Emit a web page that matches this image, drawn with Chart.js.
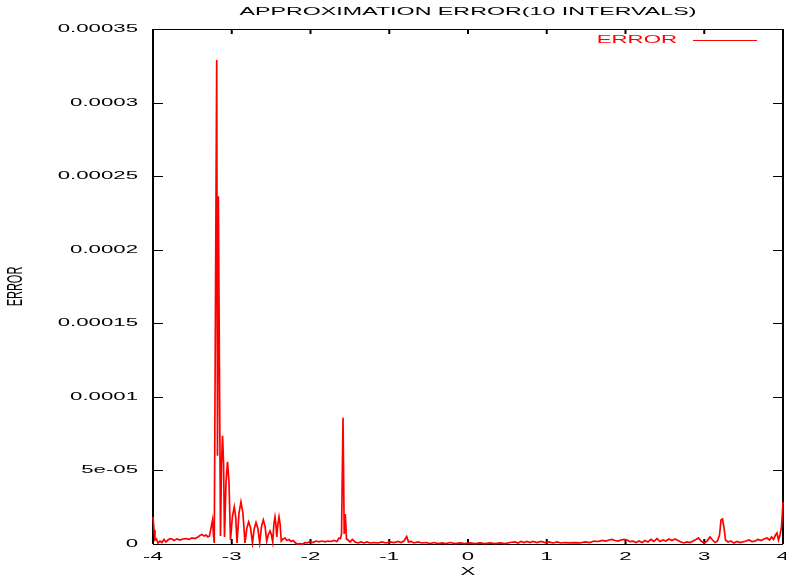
<!DOCTYPE html>
<html>
<head>
<meta charset="utf-8">
<script src="https://cdn.jsdelivr.net/npm/chart.js@4.4.1/dist/chart.umd.min.js"></script>
<style>
  html, body { margin: 0; padding: 0; background: #fff; }
  #wrap { width: 786px; height: 580px; position: relative; }
</style>
</head>
<body>
<div id="wrap"><canvas id="myChart"></canvas></div>
<script>
// values
const xs = [
  -4.000, -3.987, -3.975, -3.956, -3.937, -3.911, -3.886, -3.860, -3.835, -3.810,
  -3.784, -3.759, -3.733, -3.695, -3.657, -3.619, -3.581, -3.543, -3.505, -3.467,
  -3.429, -3.403, -3.378, -3.352, -3.327, -3.302, -3.283, -3.263, -3.244, -3.232,
  -3.222, -3.191, -3.181, -3.170,
  -3.143, -3.130, -3.117, -3.104, -3.092, -3.073, -3.054, -3.035, -3.016, -2.992,
  -2.968, -2.950, -2.933, -2.908, -2.883, -2.858, -2.832, -2.808, -2.785, -2.761,
  -2.737, -2.714, -2.692, -2.668, -2.645, -2.622, -2.599, -2.577, -2.556, -2.535,
  -2.514, -2.497, -2.480, -2.465, -2.451, -2.440, -2.428, -2.414, -2.400, -2.386,
  -2.371,
  -2.349, -2.324, -2.298, -2.273, -2.248,
  -2.222, -2.190, -2.159, -2.133, -2.095, -2.070, -2.044, -2.006, -1.968, -1.930,
  -1.892, -1.854, -1.816, -1.778, -1.740, -1.702, -1.664, -1.638, -1.619, -1.606,
  -1.587, -1.572, -1.558, -1.543, -1.524, -1.498, -1.467, -1.435, -1.397, -1.359,
  -1.321, -1.283, -1.244, -1.194, -1.143, -1.092, -1.041, -0.990, -0.940, -0.889,
  -0.851, -0.813, -0.778, -0.756, -0.724, -0.686, -0.635, -0.584, -0.533, -0.483,
  -0.432, -0.381, -0.330, -0.279, -0.229, -0.165, -0.102, -0.038, 0.025, 0.089,
  0.152, 0.216, 0.279, 0.343, 0.406, 0.470, 0.533, 0.597, 0.635, 0.673,
  0.711, 0.749, 0.787, 0.825, 0.876, 0.927, 0.978, 1.029, 1.079, 1.130,
  1.181, 1.232, 1.295, 1.359, 1.422, 1.486, 1.549, 1.600, 1.651, 1.702,
  1.752, 1.790, 1.829, 1.867, 1.905, 1.943, 1.981, 2.019, 2.057, 2.095,
  2.133, 2.171, 2.210, 2.248, 2.286, 2.324, 2.362, 2.400, 2.438, 2.476,
  2.514, 2.552, 2.590, 2.629, 2.667, 2.705, 2.743, 2.781, 2.819, 2.857,
  2.895, 2.927, 2.959, 2.997, 3.035, 3.073, 3.105, 3.137, 3.168, 3.194,
  3.213, 3.232, 3.251, 3.270, 3.302, 3.340, 3.378, 3.416, 3.454, 3.492,
  3.530, 3.568, 3.606, 3.644, 3.683, 3.721, 3.759, 3.797, 3.829, 3.854,
  3.879, 3.905, 3.924, 3.943, 3.962, 3.981, 4.000
];
const ys = [
  1.84e-5, 0.95e-5, 0.27e-5, 0.34e-5, 0.07e-5, 0.20e-5, 0.10e-5, 0.31e-5, 0.14e-5, 0.27e-5,
  0.37e-5, 0.34e-5, 0.24e-5, 0.34e-5, 0.27e-5, 0.34e-5, 0.37e-5, 0.31e-5, 0.41e-5, 0.37e-5,
  0.48e-5, 0.58e-5, 0.65e-5, 0.54e-5, 0.61e-5, 0.48e-5, 0.54e-5, 1.09e-5, 1.63e-5, 0.61e-5,
  0.07e-5, 32.89e-5, 5.99e-5, 23.63e-5,
  0.54e-5, 5.50e-5, 7.35e-5, 5.50e-5, 0.48e-5, 4.20e-5, 5.58e-5, 4.20e-5, 0.27e-5, 1.85e-5,
  2.52e-5, 1.85e-5, 0.07e-5, 2.10e-5, 2.86e-5, 2.10e-5, 0.07e-5, 1.10e-5, 1.50e-5, 1.10e-5,
  0.07e-5, 1.05e-5, 1.46e-5, 1.05e-5, 0.07e-5, 1.20e-5, 1.63e-5, 1.20e-5, 0.20e-5, 0.65e-5,
  0.89e-5, 0.65e-5, 0.14e-5, 1.35e-5, 1.84e-5, 1.35e-5, 0.48e-5, 1.35e-5, 1.84e-5, 1.35e-5,
  0.20e-5,
  0.34e-5, 0.41e-5, 0.24e-5, 0.31e-5, 0.17e-5,
  0.24e-5, 0.07e-5, 0.00e-5, 0.03e-5, 0.00e-5, 0.10e-5, 0.07e-5, 0.17e-5, 0.10e-5, 0.20e-5,
  0.14e-5, 0.20e-5, 0.14e-5, 0.20e-5, 0.17e-5, 0.24e-5, 0.17e-5, 0.41e-5, 0.37e-5, 0.68e-5,
  8.58e-5, 0.68e-5, 2.04e-5, 0.34e-5, 0.27e-5, 0.14e-5, 0.31e-5, 0.14e-5, 0.07e-5, 0.14e-5,
  0.07e-5, 0.14e-5, 0.07e-5, 0.10e-5, 0.07e-5, 0.14e-5, 0.07e-5, 0.14e-5, 0.10e-5, 0.17e-5,
  0.10e-5, 0.20e-5, 0.51e-5, 0.14e-5, 0.17e-5, 0.07e-5, 0.14e-5, 0.07e-5, 0.10e-5, 0.03e-5,
  0.10e-5, 0.03e-5, 0.07e-5, 0.03e-5, 0.10e-5, 0.03e-5, 0.07e-5, 0.03e-5, 0.07e-5, 0.03e-5,
  0.07e-5, 0.03e-5, 0.07e-5, 0.03e-5, 0.07e-5, 0.03e-5, 0.10e-5, 0.14e-5, 0.07e-5, 0.17e-5,
  0.10e-5, 0.17e-5, 0.10e-5, 0.17e-5, 0.10e-5, 0.17e-5, 0.10e-5, 0.14e-5, 0.07e-5, 0.14e-5,
  0.07e-5, 0.10e-5, 0.07e-5, 0.10e-5, 0.07e-5, 0.14e-5, 0.10e-5, 0.20e-5, 0.17e-5, 0.24e-5,
  0.20e-5, 0.27e-5, 0.31e-5, 0.24e-5, 0.20e-5, 0.27e-5, 0.31e-5, 0.27e-5, 0.17e-5, 0.20e-5,
  0.10e-5, 0.20e-5, 0.10e-5, 0.24e-5, 0.14e-5, 0.31e-5, 0.17e-5, 0.37e-5, 0.17e-5, 0.27e-5,
  0.20e-5, 0.34e-5, 0.24e-5, 0.34e-5, 0.24e-5, 0.14e-5, 0.07e-5, 0.14e-5, 0.10e-5, 0.20e-5,
  0.31e-5, 0.41e-5, 0.20e-5, 0.07e-5, 0.20e-5, 0.48e-5, 0.27e-5, 0.10e-5, 0.20e-5, 0.61e-5,
  1.63e-5, 1.70e-5, 1.09e-5, 0.27e-5, 0.14e-5, 0.20e-5, 0.07e-5, 0.17e-5, 0.10e-5, 0.14e-5,
  0.20e-5, 0.27e-5, 0.17e-5, 0.20e-5, 0.31e-5, 0.24e-5, 0.34e-5, 0.41e-5, 0.27e-5, 0.48e-5,
  0.31e-5, 0.61e-5, 0.75e-5, 0.27e-5, 0.61e-5, 1.16e-5, 2.86e-5
];

const xTicks = [-4, -3, -2, -1, 0, 1, 2, 3, 4];
const xTickLabels = ['-4', '-3', '-2', '-1', '0', '1', '2', '3', '4'];
const yTicks = [0, 0.00005, 0.0001, 0.00015, 0.0002, 0.00025, 0.0003, 0.00035];
const yTickLabels = ['0', '5e-05', '0.0001', '0.00015', '0.0002', '0.00025', '0.0003', '0.00035'];

const titleText = 'APPROXIMATION ERROR(10 INTERVALS)';
const seriesName = 'ERROR';

// the reference text is stretched sideways
const SX = 2.02;
const FONT = '"Liberation Sans", Arial, sans-serif';

function wideText(c, str, x, y, align, size, color, rot) {
    c.save();
    c.translate(x, y);
    c.scale(SX, 1);
    if (rot) c.rotate(rot);
    c.font = size + 'px ' + FONT;
    c.fillStyle = color;
    c.textAlign = align;
    c.textBaseline = 'middle';
    c.fillText(str, 0, 0);
    c.restore();
}

const gnuFrame = {
    id: 'gnuFrame',
    beforeDatasetsDraw(chart) {
        const c = chart.ctx;
        const a = chart.chartArea;
        const xs_ = chart.scales.x, ys_ = chart.scales.y;
        c.save();
        c.strokeStyle = '#000';
        // frame
        c.lineWidth = 2;
        c.beginPath();
        c.moveTo(a.left, a.top); c.lineTo(a.left, a.bottom);
        c.moveTo(a.right, a.top); c.lineTo(a.right, a.bottom);
        c.stroke();
        c.lineWidth = 1;
        c.beginPath();
        c.moveTo(a.left, Math.round(a.top) + 0.5); c.lineTo(a.right, Math.round(a.top) + 0.5);
        c.moveTo(a.left, Math.round(a.bottom) + 0.5); c.lineTo(a.right, Math.round(a.bottom) + 0.5);
        c.stroke();
        // inward ticks
        c.lineWidth = 1;
        c.beginPath();
        yTicks.forEach(v => {
            const py = Math.round(ys_.getPixelForValue(v)) + 0.5;
            c.moveTo(a.left, py); c.lineTo(a.left + 10, py);
            c.moveTo(a.right, py); c.lineTo(a.right - 10, py);
        });
        c.stroke();
        c.lineWidth = 2;
        c.beginPath();
        xTicks.forEach(v => {
            const px = xs_.getPixelForValue(v);
            c.moveTo(px, a.bottom); c.lineTo(px, a.bottom - 5);
            c.moveTo(px, a.top); c.lineTo(px, a.top + 5);
        });
        c.stroke();
        c.restore();
    },
    afterDraw(chart) {
        const c = chart.ctx;
        const a = chart.chartArea;
        const xs_ = chart.scales.x, ys_ = chart.scales.y;
        yTicks.forEach((v, i) => {
            wideText(c, yTickLabels[i], a.left - 15, ys_.getPixelForValue(v), 'right', 11, '#000');
        });
        xTicks.forEach((v, i) => {
            wideText(c, xTickLabels[i], xs_.getPixelForValue(v), a.bottom + 13, 'center', 11, '#000');
        });
        wideText(c, titleText, (a.left + a.right) / 2, 12, 'center', 11.5, '#000');
        wideText(c, 'X', (a.left + a.right) / 2, 572, 'center', 11, '#000');
        wideText(c, seriesName, 16, (a.top + a.bottom) / 2, 'center', 11, '#000', -Math.PI / 2);
        // key
        wideText(c, seriesName, 677, 40, 'right', 11, '#ff0000');
        c.save();
        c.strokeStyle = '#ff0000';
        c.lineWidth = 1;
        c.beginPath();
        c.moveTo(693, 40.5); c.lineTo(757, 40.5);
        c.stroke();
        c.restore();
    }
};

const ctx = document.getElementById('myChart');

new Chart(ctx, {
    type: 'line',
    data: {
        datasets: [{
            label: seriesName,
            data: xs.map((x, i) => ({ x: x, y: ys[i] })),
            borderColor: '#ff0000',
            borderWidth: 1.7,
            pointRadius: 0,
            tension: 0,
            clip: 4
        }]
    },
    options: {
        responsive: true,
        maintainAspectRatio: false,
        animation: false,
        layout: {
            padding: { left: 153, right: 3, top: 29, bottom: 36 }
        },
        plugins: {
            legend: { display: false },
            tooltip: { enabled: false },
            title: { display: false }
        },
        scales: {
            x: { type: 'linear', min: -4, max: 4, display: false },
            y: { type: 'linear', min: 0, max: 0.00035, display: false }
        }
    },
    plugins: [gnuFrame]
});
</script>
</body>
</html>
